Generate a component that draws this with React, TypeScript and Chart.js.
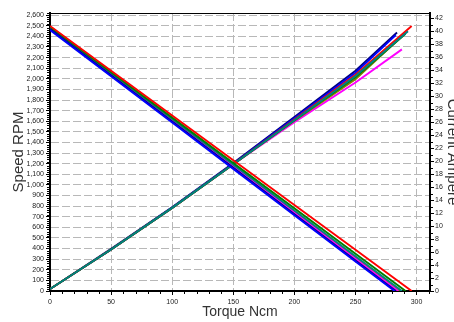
import { useEffect, useRef } from "react";
import { Chart, registerables } from "chart.js";

Chart.register(...registerables);

// Torque sample points (Ncm)
const torqueGrid = [0, 50, 100, 150, 200, 250];

const runNames = ["Red", "Blue", "Navy", "Green", "Teal", "Olive", "Magenta"];
const runColors = ["#ff0000", "#0000ff", "#000080", "#008000", "#008080", "#808000", "#ff00ff"];

// Speed RPM at torqueGrid
const speedRed = [2498, 2076, 1654, 1232, 810, 388];
const speedBlue = [2460, 2024, 1587, 1151, 715, 279];
const speedNavy = [2470, 2034, 1597, 1161, 724, 288];
const speedGreen = [2490, 2062, 1634, 1206, 779, 351];
const speedTeal = [2485, 2054, 1622, 1191, 759, 328];
const speedOlive = [2475, 2042, 1610, 1177, 744, 312];
const speedMagenta = [2480, 2045, 1610, 1175, 740, 305];
// torque where speed reaches 0
const speedEndTorque = [296, 282, 283, 291, 288, 286, 285];

// Current Ampere at torqueGrid
const currentRed = [0.3, 6.4, 12.8, 19.5, 26.4, 33.3];
const currentBlue = [0.3, 6.4, 12.9, 19.6, 26.6, 33.6];
const currentNavy = [0.3, 6.5, 12.9, 19.7, 26.8, 33.9];
const currentGreen = [0.3, 6.4, 12.8, 19.5, 26.3, 32.9];
const currentTeal = [0.3, 6.4, 12.8, 19.5, 26.3, 33.1];
const currentOlive = [0.3, 6.4, 12.8, 19.5, 26.2, 32.6];
const currentMagenta = [0.3, 6.4, 12.8, 19.5, 26.0, 32.1];
// final measured point
const currentEndTorque = [296, 283, 284, 291, 293, 288, 288];
const currentEnd = [40.8, 39.4, 39.8, 39.6, 40.0, 39.2, 37.2];

const speedSets = [speedRed, speedBlue, speedNavy, speedGreen, speedTeal, speedOlive, speedMagenta];
const currentSets = [currentRed, currentBlue, currentNavy, currentGreen, currentTeal, currentOlive, currentMagenta];

const FONT = "'Liberation Sans', Arial, Helvetica, sans-serif";

const framePlugin = {
  id: "frame",
  afterDraw(chart: any) {
    const { ctx, chartArea, scales } = chart;
    ctx.save();
    ctx.strokeStyle = "#000";
    ctx.lineWidth = 1;
    ctx.beginPath();
    ctx.moveTo(chartArea.left, chartArea.top + 0.5);
    ctx.lineTo(chartArea.right, chartArea.top + 0.5);
    ctx.stroke();

    // minor ticks
    ctx.lineWidth = 1;
    ctx.beginPath();
    const x = scales.x;
    for (let v = 0; v <= x.max; v += 10) {
      if (v % 50 === 0) continue;
      const px = Math.round(x.getPixelForValue(v)) + 0.5;
      ctx.moveTo(px, chartArea.bottom);
      ctx.lineTo(px, chartArea.bottom + 3);
    }
    const y = scales.y;
    for (let v = 0; v <= y.max; v += 20) {
      if (v % 100 === 0) continue;
      const py = Math.round(y.getPixelForValue(v)) + 0.5;
      ctx.moveTo(chartArea.left - 3, py);
      ctx.lineTo(chartArea.left, py);
    }
    const y1 = scales.y1;
    for (let v = 0; v <= y1.max; v += 1) {
      if (v % 2 === 0) continue;
      const py = Math.round(y1.getPixelForValue(v)) + 0.5;
      ctx.moveTo(chartArea.right, py);
      ctx.lineTo(chartArea.right + 3, py);
    }
    ctx.stroke();
    ctx.restore();
  },
};

export default function App() {
  const ref = useRef<HTMLCanvasElement>(null);

  useEffect(() => {
    if (!ref.current) return;
    Chart.defaults.font.family = FONT;

    // Chart.js draws dataset 0 on top, so lists run top-most first
    const order = [0, 1, 2, 3, 4, 6, 5];
    const speedDatasets = order.map((i) => ({
      label: runNames[i] + " speed",
      data: [
        ...torqueGrid.map((t, k) => ({ x: t, y: speedSets[i][k] })),
        { x: speedEndTorque[i], y: 0 },
      ],
      borderColor: runColors[i],
      backgroundColor: runColors[i],
      borderWidth: 1.9,
      pointRadius: 0,
      yAxisID: "y",
    }));
    const corder = [4, 3, 0, 5, 1, 2, 6];
    const currentDatasets = corder.map((i) => ({
      label: runNames[i] + " current",
      data: [
        ...torqueGrid.map((t, k) => ({ x: t, y: currentSets[i][k] })),
        { x: currentEndTorque[i], y: currentEnd[i] },
      ],
      borderColor: runColors[i],
      backgroundColor: runColors[i],
      borderWidth: 1.9,
      pointRadius: 0,
      yAxisID: "y1",
    }));

    const tickFont = { size: 7, family: FONT };
    const gridCommon = {
      color: "#b8b8b8",
      lineWidth: 1,
      tickColor: "#000",
      tickLength: 4,
      tickWidth: 1,
    };

    const chart = new Chart(ref.current, {
      type: "line",
      data: { datasets: [...speedDatasets, ...currentDatasets] as any },
      plugins: [framePlugin],
      options: {
        responsive: false,
        animation: false,
        locale: "en-US",
        layout: { padding: { top: 13, left: 0, right: 0, bottom: 0 } },
        plugins: { legend: { display: false }, tooltip: { enabled: false } },
        elements: { line: { tension: 0 } },
        scales: {
          x: {
            type: "linear",
            position: "bottom",
            min: 0,
            max: 311,
            ticks: { stepSize: 50, includeBounds: false, autoSkip: false, font: tickFont, color: "#222", padding: 3, maxRotation: 0 },
            grid: gridCommon,
            border: { color: "#000", width: 2, dash: [8, 3] },
            title: {
              display: true,
              text: "Torque Ncm",
              color: "#333",
              font: { size: 14, family: FONT },
              padding: { top: 0, bottom: 1 },
            },
            afterFit: (s: any) => {
              s.height = 31;
            },
          },
          y: {
            type: "linear",
            position: "left",
            min: 0,
            max: 2620,
            ticks: { stepSize: 100, includeBounds: false, autoSkip: false, font: tickFont, color: "#222", padding: 2 },
            grid: gridCommon,
            border: { color: "#000", width: 2, dash: [8, 3] },
            title: {
              display: true,
              text: "Speed RPM",
              color: "#333",
              font: { size: 15, family: FONT },
              padding: { top: 10, bottom: 0 },
            },
            afterFit: (s: any) => {
              s.width = 50;
            },
          },
          y1: {
            type: "linear",
            position: "right",
            min: 0,
            max: 42.8,
            ticks: { stepSize: 2, includeBounds: false, autoSkip: false, font: tickFont, color: "#222", padding: 1 },
            grid: { ...gridCommon, drawOnChartArea: false },
            border: { color: "#000", width: 2 },
            title: {
              display: true,
              text: "Current Ampere",
              color: "#333",
              font: { size: 15, family: FONT },
              padding: { top: -7, bottom: 0 },
            },
            afterFit: (s: any) => {
              s.width = 24;
            },
          },
        },
      } as any,
    });
    return () => chart.destroy();
  }, []);

  return (
    <div style={{ position: "fixed", left: 0, top: 0, width: 454, height: 322, background: "#fff" }}>
      <canvas ref={ref} width={454} height={322} />
    </div>
  );
}
